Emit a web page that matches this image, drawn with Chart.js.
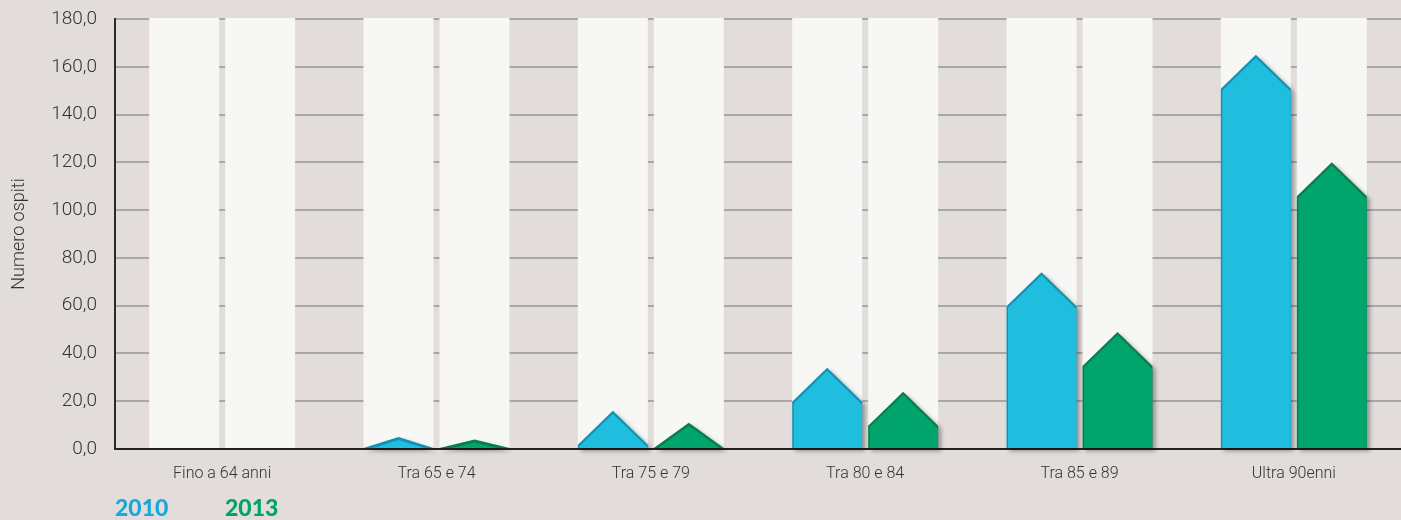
<!DOCTYPE html>
<html>
<head>
<meta charset="utf-8">
<script src="https://cdn.jsdelivr.net/npm/chart.js@4"></script>
<style>
  html, body { margin: 0; background: #e2dddb; }
  #wrap { position: relative; width: 1401px; height: 520px; overflow: hidden; }
  .leg { position: absolute; top: 493px; font: 900 23px Lato, sans-serif; }
</style>
</head>
<body>
<div id="wrap">
  <canvas id="c" width="1401" height="520"></canvas>
  <div class="leg" style="left:115px;color:#1aa8dc">2010</div>
  <div class="leg" style="left:225px;color:#00a46a">2013</div>
</div>
<script>
/* Ospiti per fascia d'età, 2010 vs 2013 */
const categories = ["Fino a 64 anni", "Tra 65 e 74", "Tra 75 e 79", "Tra 80 e 84", "Tra 85 e 89", "Ultra 90enni"];
const years = ["2010", "2013"];
const values2010 = [0, 5, 16, 34, 74, 165];
const values2013 = [0, 4, 11, 24, 49, 120];
const yTicks = [0, 20, 40, 60, 80, 100, 120, 140, 160, 180];

const Y_MAX = 180;
const ROOF = 34;          // altezza del tetto in px
const COLUMN_BG = "#f7f7f5";
const COLORS = [
  { fill: "#1fbedf", edge: "#1391b3" },
  { fill: "#00a46c", edge: "#087d4b" }
];
const fmt = v => v.toFixed(1).replace(".", ",");

function housePath(ctx, bar, dy){
  const x0 = bar.x - bar.width/2, x1 = bar.x + bar.width/2;
  const base = bar.base, peak = bar.y + dy;
  const h = base - bar.y;
  const roof = Math.min(ROOF, h);
  const shoulder = bar.y + roof + dy;
  ctx.beginPath();
  ctx.moveTo(x0, base);
  ctx.lineTo(x0, shoulder);
  ctx.lineTo(bar.x, peak);
  ctx.lineTo(x1, shoulder);
  ctx.lineTo(x1, base);
  ctx.closePath();
}

const houses = {
  id: "houses",
  beforeDatasetsDraw(chart){
    const {ctx} = chart, y = chart.scales.y;
    const top = y.getPixelForValue(Y_MAX), base = y.getPixelForValue(0);
    ctx.save();
    ctx.fillStyle = COLUMN_BG;
    chart.data.datasets.forEach((ds, i) => {
      chart.getDatasetMeta(i).data.forEach(bar => {
        ctx.fillRect(bar.x - bar.width/2, top - 1, bar.width, base - top);
      });
    });
    ctx.restore();
  },
  afterDatasetsDraw(chart){
    const {ctx} = chart;
    chart.data.datasets.forEach((ds, i) => {
      const c = COLORS[i];
      chart.getDatasetMeta(i).data.forEach(bar => {
        if (bar.base - bar.y < 1) return;
        ctx.save();
        ctx.shadowColor = "rgba(0,0,0,0.35)";
        ctx.shadowOffsetX = 3; ctx.shadowOffsetY = 3; ctx.shadowBlur = 4;
        ctx.fillStyle = c.edge;
        housePath(ctx, bar, 0);
        ctx.fill();
        ctx.restore();
        ctx.save();
        ctx.beginPath();
        ctx.rect(bar.x - bar.width/2 + 1.5, 0, bar.width - 1.5, bar.base);
        ctx.clip();
        ctx.fillStyle = c.fill;
        housePath(ctx, bar, 3);
        ctx.fill();
        ctx.restore();
      });
    });
  }
};

new Chart(document.getElementById("c"), {
  type: "bar",
  data: {
    labels: categories,
    datasets: [
      { label: years[0], data: values2010, backgroundColor: "rgba(0,0,0,0)", borderWidth: 0 },
      { label: years[1], data: values2013, backgroundColor: "rgba(0,0,0,0)", borderWidth: 0 }
    ]
  },
  options: {
    responsive: false,
    animation: false,
    layout: { padding: { top: 19, right: 0, bottom: 30, left: 0 } },
    categoryPercentage: 0.709,
    barPercentage: 0.921,
    plugins: { legend: { display: false }, tooltip: { enabled: false } },
    scales: {
      x: {
        grid: { display: false },
        border: { color: "#222", width: 2 },
        ticks: { color: "#333", font: { family: "Roboto", size: 16, weight: 300 }, padding: 7, maxRotation: 0 },
        afterFit: s => { s.height = 41; s.paddingLeft = 0; s.paddingRight = 0; }
      },
      y: {
        min: 0, max: Y_MAX,
        afterBuildTicks: s => { s.ticks = yTicks.map(v => ({ value: v })); },
        grid: { color: "#a9a7ab", lineWidth: 2, drawTicks: false },
        border: { color: "#2b2b2b", width: 2 },
        ticks: { color: "#333", font: { family: "Roboto", size: 19, weight: 300 }, padding: 18, callback: v => fmt(v) },
        title: { display: true, text: "Numero ospiti", color: "#333", font: { family: "Roboto", size: 18, weight: 300 }, padding: { top: 9, bottom: 0 } },
        afterFit: s => { s.width = 115; s.paddingTop = 0; s.paddingBottom = 0; }
      }
    }
  },
  plugins: [houses]
});
</script>
</body>
</html>
